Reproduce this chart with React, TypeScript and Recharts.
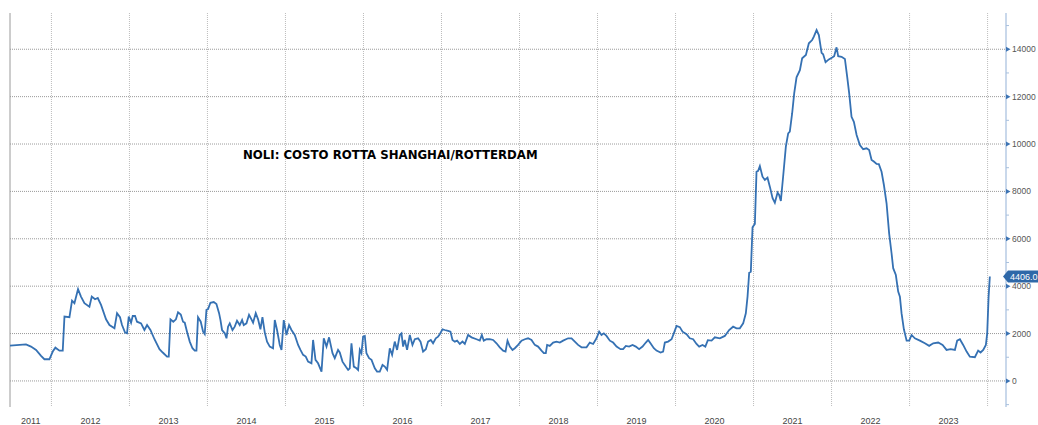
import React from 'react';
import { LineChart, Line, XAxis, YAxis, CartesianGrid, ReferenceLine } from 'recharts';

// Dates are decimal years (weekly-ish sampling of the index), values in USD per FEU
const dates2011to2013 = [2011.469,2011.674,2011.738,2011.803,2011.867,2011.910,2011.974,2012.017,2012.051,2012.103,2012.145,2012.167,2012.231,2012.264,2012.295,2012.341,2012.379,2012.423,2012.487,2012.517,2012.559,2012.594,2012.636,2012.700,2012.744,2012.808,2012.841,2012.879,2012.905,2012.944,2012.969,2012.991,2013.021,2013.042,2013.072,2013.097,2013.149,2013.192,2013.226,2013.269,2013.321,2013.385,2013.427,2013.482,2013.504,2013.526,2013.562,2013.596,2013.623,2013.658,2013.687,2013.709,2013.738,2013.773,2013.808,2013.837,2013.859,2013.879,2013.914,2013.944,2013.965,2013.987];
const values2011to2013 = [1490,1540,1450,1310,1055,915,915,1240,1405,1280,1280,2715,2690,3390,3280,3870,3560,3280,3135,3560,3450,3500,3210,2600,2360,2220,2855,2690,2360,2040,2010,2715,2460,2740,2740,2500,2430,2150,2360,2150,1760,1340,1200,1025,1025,2600,2500,2600,2900,2800,2500,2460,2080,1660,1380,1280,1280,2690,2500,2080,1980,3000];

const dates2014to2015 = [2014.008,2014.038,2014.081,2014.115,2014.149,2014.167,2014.187,2014.222,2014.244,2014.264,2014.286,2014.321,2014.350,2014.379,2014.414,2014.444,2014.465,2014.500,2014.533,2014.564,2014.585,2014.619,2014.649,2014.679,2014.705,2014.735,2014.764,2014.799,2014.841,2014.863,2014.892,2014.927,2014.949,2014.978,2015.013,2015.046,2015.077,2015.119,2015.162,2015.192,2015.226,2015.260,2015.290,2015.333,2015.354,2015.385,2015.418,2015.462,2015.491,2015.526,2015.559,2015.603,2015.632,2015.674,2015.696,2015.731,2015.773,2015.803,2015.824,2015.846,2015.876,2015.910,2015.931,2015.953,2015.974,2015.995];
const values2014to2015 = [3030,3300,3330,3250,2860,2570,2150,2010,1800,2290,2430,2150,2290,2540,2360,2570,2360,2430,2790,2600,2460,2860,2600,2180,2690,2040,1660,1450,1380,2570,2150,1520,1310,2570,1940,2360,2150,1940,1520,1310,1100,1030,815,745,1730,890,745,395,1800,1450,1840,1170,960,1310,1200,815,605,465,535,1590,605,535,465,1310,1170,1870];

const dates2016to2017 = [2016.017,2016.038,2016.072,2016.103,2016.145,2016.174,2016.209,2016.244,2016.273,2016.303,2016.337,2016.367,2016.401,2016.431,2016.465,2016.487,2016.508,2016.529,2016.559,2016.594,2016.628,2016.658,2016.700,2016.731,2016.764,2016.799,2016.828,2016.863,2016.892,2016.927,2016.956,2016.978,2017.013,2017.042,2017.085,2017.115,2017.141,2017.171,2017.200,2017.235,2017.269,2017.299,2017.341,2017.385,2017.449,2017.491,2017.517,2017.542,2017.577,2017.619,2017.662,2017.705,2017.747,2017.790,2017.821,2017.846,2017.876,2017.910,2017.940,2017.982];
const values2016to2017 = [1900,1170,960,890,535,395,395,675,605,465,1380,1100,1660,1310,1940,2010,1450,1730,1310,1940,1520,1760,1800,1660,1240,1340,1660,1730,1590,1800,1870,1970,2180,2150,2110,2080,1730,1660,1700,1560,1660,1560,1940,1840,1760,1700,1940,1700,1760,1760,1730,1590,1420,1280,1240,1700,1450,1310,1380,1520];

const dates2018to2019 = [2018.026,2018.068,2018.110,2018.154,2018.196,2018.238,2018.282,2018.312,2018.337,2018.354,2018.388,2018.431,2018.474,2018.517,2018.559,2018.623,2018.667,2018.709,2018.751,2018.795,2018.859,2018.901,2018.944,2018.987,2019.021,2019.051,2019.081,2019.115,2019.158,2019.200,2019.244,2019.295,2019.328,2019.363,2019.405,2019.449,2019.491,2019.533,2019.577,2019.619,2019.649,2019.679,2019.722,2019.756,2019.808,2019.841,2019.863,2019.905,2019.949,2019.978];
const values2018to2019 = [1700,1760,1800,1730,1520,1450,1280,1170,1170,1520,1480,1620,1660,1620,1700,1800,1800,1660,1520,1420,1420,1620,1560,1800,2080,1940,2010,1900,1700,1620,1450,1340,1340,1480,1450,1520,1450,1340,1450,1620,1730,1590,1380,1280,1200,1240,1620,1660,1760,2010];

const dates2020to2021 = [2020.013,2020.055,2020.090,2020.141,2020.183,2020.226,2020.269,2020.303,2020.346,2020.382,2020.414,2020.462,2020.504,2020.568,2020.632,2020.687,2020.738,2020.782,2020.824,2020.867,2020.901,2020.923,2020.944,2020.965,2020.987,2021.017,2021.038,2021.059,2021.081,2021.115,2021.145,2021.179,2021.209,2021.244,2021.273,2021.308,2021.328,2021.350,2021.379,2021.414,2021.444,2021.465,2021.495,2021.521,2021.551,2021.594,2021.623,2021.671,2021.709,2021.751,2021.773,2021.808,2021.837,2021.872,2021.892,2021.923,2021.965];
const values2020to2021 = [2320,2270,2080,1970,1800,1760,1560,1450,1520,1450,1720,1700,1840,1800,1900,2150,2290,2220,2220,2430,2855,3560,4570,4610,6490,6630,8830,8870,9070,8620,8480,8580,8200,7710,7520,7950,7850,7600,8620,9890,10450,10520,11300,12140,12815,13120,13620,13760,14250,14390,14530,14810,14600,13850,13790,13450,13570];

const dates2022to2024 = [2022.008,2022.033,2022.064,2022.085,2022.128,2022.171,2022.200,2022.226,2022.256,2022.286,2022.321,2022.363,2022.405,2022.449,2022.482,2022.513,2022.542,2022.577,2022.606,2022.641,2022.671,2022.705,2022.738,2022.769,2022.790,2022.824,2022.854,2022.876,2022.897,2022.927,2022.962,2022.995,2023.026,2023.068,2023.132,2023.196,2023.251,2023.303,2023.367,2023.423,2023.474,2023.526,2023.581,2023.610,2023.645,2023.687,2023.731,2023.773,2023.837,2023.879,2023.910,2023.944,2023.978,2023.995,2024.013,2024.029];
const values2022to2024 = [13650,13710,14080,13710,13680,13590,12840,12140,11150,10940,10380,9960,9780,9820,9750,9330,9260,9160,9150,8830,8270,7500,6230,5390,4760,4470,3770,3560,2860,2180,1700,1700,1940,1800,1700,1590,1480,1590,1620,1520,1310,1340,1310,1700,1760,1520,1240,1025,1000,1280,1200,1310,1520,2010,3560,4406];

const yearBoundaries = [2012, 2013, 2014, 2015, 2016, 2017, 2018, 2019, 2020, 2021, 2022, 2023, 2024];
const yearLabelPositions = [2011.735, 2012.5, 2013.5, 2014.5, 2015.5, 2016.5, 2017.5, 2018.5, 2019.5, 2020.5, 2021.5, 2022.5, 2023.5];
const yearLabels = ['2011', '2012', '2013', '2014', '2015', '2016', '2017', '2018', '2019', '2020', '2021', '2022', '2023'];
const majorYTicks = [0, 2000, 4000, 6000, 8000, 10000, 12000, 14000];
const minorYTicks = [-1000, 1000, 3000, 5000, 7000, 9000, 11000, 13000, 15000];
const LAST_VALUE = 4406;
const LAST_LABEL = '4406.0';
const TITLE = 'NOLI: COSTO ROTTA SHANGHAI/ROTTERDAM';

const X_DOMAIN: [number, number] = [2011.469, 2024.236];
const Y_DOMAIN: [number, number] = [-1100, 15530];

const segments: [number[], number[]][] = [
  [dates2011to2013, values2011to2013],
  [dates2014to2015, values2014to2015],
  [dates2016to2017, values2016to2017],
  [dates2018to2019, values2018to2019],
  [dates2020to2021, values2020to2021],
  [dates2022to2024, values2022to2024],
];

const data = segments.flatMap(([d, v]) => {
  const n = Math.min(d.length, v.length);
  const out: { t: number; value: number }[] = [];
  for (let i = 0; i < n; i++) out.push({ t: d[i], value: v[i] });
  return out;
});

const yTicks = [...minorYTicks, ...majorYTicks, LAST_VALUE];

const RightTick = (props: any) => {
  const { x, y, payload } = props;
  const v = payload.value;
  if (v === LAST_VALUE) {
    return (
      <g>
        <path
          d={`M${x - 3},${y} L${x + 2},${y - 6} L${x + 40},${y - 6} L${x + 40},${y + 6} L${x + 2},${y + 6} Z`}
          fill="#2e68a8"
        />
        <text x={x + 4} y={y} dy="0.35em" fill="#ffffff" fontSize={9} fontFamily="Liberation Sans, Arial, sans-serif">
          {LAST_LABEL}
        </text>
      </g>
    );
  }
  if (majorYTicks.includes(v)) {
    return (
      <g>
        <path d={`M${x},${y - 2.5} L${x + 4.5},${y} L${x},${y + 2.5} Z`} fill="#3d74b4" />
        <text x={x + 6} y={y} dy="0.35em" fill="#555555" fontSize={8.5} fontFamily="Liberation Sans, Arial, sans-serif">
          {v}
        </text>
      </g>
    );
  }
  return <line x1={x} x2={x + 3} y1={y} y2={y} stroke="#a8c0dd" strokeWidth={1} />;
};

const BottomTick = (props: any) => {
  const { x, y, payload } = props;
  const idx = yearLabelPositions.indexOf(payload.value);
  return (
    <text x={x} y={y + 16.5} textAnchor="middle" fill="#444444" fontSize={9} fontFamily="Liberation Sans, Arial, sans-serif">
      {idx >= 0 ? yearLabels[idx] : ''}
    </text>
  );
};

export default function App() {
  return (
    <div style={{ position: 'absolute', left: 0, top: 0, width: 1038, height: 425, background: '#ffffff', overflow: 'hidden' }}>
      <LineChart width={1038} height={425} data={data} margin={{ top: 13, right: 0, bottom: 0, left: 10 }}>
        <CartesianGrid vertical={false} horizontalValues={majorYTicks} stroke="#9a9a9a" strokeDasharray="1 1" />
        <CartesianGrid horizontal={false} verticalValues={yearBoundaries} stroke="#bdbdbd" strokeDasharray="1 1" />
        <XAxis
          dataKey="t"
          type="number"
          domain={X_DOMAIN}
          allowDataOverflow
          ticks={yearLabelPositions}
          interval={0}
          axisLine={false}
          tickLine={false}
          tickSize={0}
          tickMargin={0}
          height={18}
          tick={(p: any) => <BottomTick {...p} />}
        />
        <YAxis
          orientation="right"
          type="number"
          domain={Y_DOMAIN}
          allowDataOverflow
          ticks={yTicks}
          interval={0}
          width={32}
          tickSize={0}
          tickMargin={0}
          tickLine={false}
          axisLine={{ stroke: '#b7cbe4', strokeWidth: 1.5 }}
          tick={(p: any) => <RightTick {...p} />}
        />
        <ReferenceLine x={X_DOMAIN[0]} stroke="#9a9a9a" strokeWidth={1} />
        <Line
          type="linear"
          dataKey="value"
          stroke="#3571b3"
          strokeWidth={1.8}
          dot={false}
          isAnimationActive={false}
        />
      </LineChart>
      <div
        style={{
          position: 'absolute',
          left: 243,
          top: 150,
          fontFamily: '"DejaVu Sans", Verdana, sans-serif',
          fontWeight: 'bold',
          fontSize: 11.75,
          lineHeight: 1,
          color: '#000000',
          whiteSpace: 'nowrap',
        }}
      >
        {TITLE}
      </div>
    </div>
  );
}
